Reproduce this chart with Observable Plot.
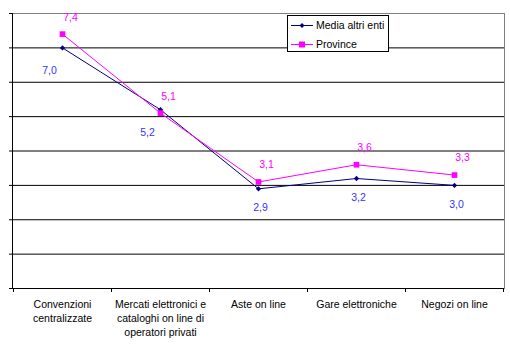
<!DOCTYPE html>
<html><head><meta charset="utf-8">
<script src="https://cdn.jsdelivr.net/npm/d3@7"></script>
<script src="https://cdn.jsdelivr.net/npm/@observablehq/plot@0.6"></script>
<style>
body{margin:0;background:#fff;font-family:"Liberation Sans",Arial,sans-serif}
#wrap{position:relative;width:510px;height:358px}
#legend{position:absolute;left:287px;top:15px;width:100px;height:35px;border:1px solid #000;background:#fff;font-size:10.5px;color:#000}
.row{position:absolute;left:3px;height:14px;display:flex;align-items:center}
.row span{margin-left:3px;white-space:nowrap}
</style></head><body><div id="wrap"></div>
<script>
const categories = ["Convenzioni\ncentralizzate","Mercati elettronici e\ncataloghi on line di\noperatori privati","Aste on line","Gare elettroniche","Negozi on line"];
const seriesNames = ["Media altri enti","Province"];
const mediaAltriEnti = [7.0, 5.2, 2.9, 3.2, 3.0];
const province = [7.4, 5.1, 3.1, 3.6, 3.3];
const yTicks = [0,1,2,3,4,5,6,7,8];
const seriesColors = ["#000080","#FF00FF"];
const labelColors = ["#3333FF","#FF00FF"];

const fmt = v => v.toFixed(1).replace(".", ",");
const rows = [];
categories.forEach((c,i) => rows.push({cat:c, i, value: mediaAltriEnti[i], series: seriesNames[0]}));
categories.forEach((c,i) => rows.push({cat:c, i, value: province[i], series: seriesNames[1]}));
const media = rows.filter(d => d.series === seriesNames[0]);
const prov = rows.filter(d => d.series === seriesNames[1]);

const plot = Plot.plot({
  width: 510, height: 358,
  marginLeft: 12, marginRight: 6, marginTop: 13, marginBottom: 70,
  style: {fontFamily: '"Liberation Sans", Arial, sans-serif', fontSize: "10.5px", background: "#fff", color: "#000"},
  x: {type: "point", domain: categories, padding: 0.5},
  y: {domain: [0, 8]},
  color: {domain: seriesNames, range: seriesColors},
  marks: [
    Plot.ruleY(yTicks.slice(1, -1), {stroke: "#000"}),
    Plot.frame({stroke: "#808080"}),
    Plot.frame({anchor: "left", stroke: "#000"}),
    Plot.ruleY([0], {stroke: "#000"}),
    Plot.axisY({ticks: yTicks, tickSize: 3, tickFormat: () => "", stroke: "#000", label: null}),
    Plot.axisX({tickSize: 0, tickPadding: 9, fontSize: 10.5, lineHeight: 1.35, fill: "#000", label: null}),
    Plot.line(rows, {x: "cat", y: "value", z: "series", stroke: "series", strokeWidth: 1}),
    Plot.dot(media, {x: "cat", y: "value", symbol: "diamond2", r: 2.4, fill: seriesColors[0], stroke: null}),
    Plot.dot(prov, {x: "cat", y: "value", symbol: "square", r: 3.2, fill: seriesColors[1], stroke: null}),
    Plot.text(prov, {x: "cat", y: "value", text: d => fmt(d.value), dx: 8, dy: -17, fill: labelColors[1], fontSize: 10.5}),
    Plot.text(media.filter(d => d.i < 2), {x: "cat", y: "value", text: d => fmt(d.value), dx: -13, dy: 23, fill: labelColors[0], fontSize: 10.5}),
    Plot.text(media.filter(d => d.i >= 2), {x: "cat", y: "value", text: d => fmt(d.value), dx: 2, dy: 19, fill: labelColors[0], fontSize: 10.5})
  ]
});

// bottom tick marks at category boundaries (Excel style)
const xs = plot.scale("x");
const ys = plot.scale("y");
const step = xs.apply(categories[1]) - xs.apply(categories[0]);
const y0 = ys.apply(0);
const bounds = categories.map(c => xs.apply(c) - step / 2).concat([xs.apply(categories[categories.length - 1]) + step / 2]);
const g = d3.select(plot).append("g").attr("stroke", "#000");
bounds.forEach(b => g.append("line").attr("x1", Math.round(b) + 0.5).attr("x2", Math.round(b) + 0.5).attr("y1", y0).attr("y2", y0 + 4));

const wrap = document.getElementById("wrap");
wrap.appendChild(plot);

// legend
const legend = document.createElement("div");
legend.id = "legend";
const symbols = [
  '<path d="M11,2 L13.5,4.5 L11,7 L8.5,4.5 Z" fill="' + seriesColors[0] + '"/>',
  '<rect x="8" y="1.5" width="6" height="6" fill="' + seriesColors[1] + '"/>'
];
seriesNames.forEach((name, i) => {
  const r = document.createElement("div");
  r.className = "row";
  r.style.top = (2 + i * 19) + "px";
  r.innerHTML = '<svg width="22" height="9"><line x1="0" x2="22" y1="4.5" y2="4.5" stroke="' + seriesColors[i] + '"/>' + symbols[i] + '</svg><span>' + name + '</span>';
  legend.appendChild(r);
});
wrap.appendChild(legend);
</script>
</body></html>
